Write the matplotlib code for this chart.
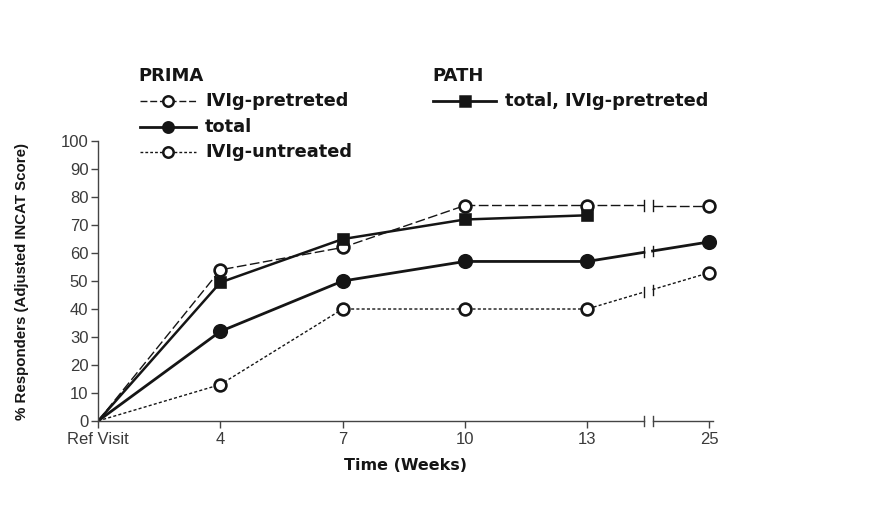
import numpy as np
import matplotlib
matplotlib.use('Agg')
import matplotlib.pyplot as plt
from matplotlib.lines import Line2D

# data
weeks = ['Ref Visit', '4', '7', '10', '13', '25']
prima_pretreated = [0, 54, 62, 77, 77, 77]
prima_total = [0, 32, 50, 57, 57, 64]
prima_untreated = [0, 13, 40, 40, 40, 53]
path_total = [0, 49.5, 65, 72, 73.5]

INK = '#151515'
GREY = '#444444'
BREAK = 4.5   # axis break between week 13 and week 25
GAP = 0.035

plt.rcParams['font.family'] = ['Liberation Sans', 'DejaVu Sans']

fig = plt.figure(figsize=(8.76, 5.19), dpi=100)
ax = fig.add_axes([0.112, 0.189, 0.702, 0.539])

x = np.arange(len(weeks))


def broken_line(ax, vals, ls, lw, marker, mfc, ms):
    xs = np.arange(len(vals))
    yv = np.array(vals, dtype=float)
    if len(vals) > 5:
        y_lo = np.interp(BREAK - GAP, xs, yv)
        y_hi = np.interp(BREAK + GAP, xs, yv)
        ax.plot(list(xs[:5]) + [BREAK - GAP], list(yv[:5]) + [y_lo],
                ls=ls, lw=lw, color=INK, zorder=2)
        ax.plot([BREAK + GAP, xs[5]], [y_hi, yv[5]], ls=ls, lw=lw,
                color=INK, zorder=2)
        for bx, by in ((BREAK - GAP, y_lo), (BREAK + GAP, y_hi)):
            ax.plot([bx, bx], [by - 1.8, by + 1.8], color=INK, lw=1.0,
                    zorder=2)
    else:
        ax.plot(xs, yv, ls=ls, lw=lw, color=INK, zorder=2)
    ax.plot(xs[1:], yv[1:], ls='none', marker=marker, ms=ms, mfc=mfc,
            mec=INK, mew=1.9, zorder=3, clip_on=False)


broken_line(ax, prima_pretreated, (0, (7, 2.5)), 1.0, 'o', 'white', 8.5)
broken_line(ax, prima_untreated, (0, (2.2, 1.6)), 1.0, 'o', 'white', 8.5)
broken_line(ax, prima_total, '-', 2.0, 'o', INK, 9)
broken_line(ax, path_total, '-', 1.8, 's', INK, 7.5)

ax.set_xlim(0, 5.03)
ax.set_ylim(0, 100)
ax.set_yticks(np.arange(0, 101, 10))
ax.set_xticks(x)
ax.set_xticklabels(weeks)
ax.tick_params(axis='both', direction='out', length=5, width=1.0,
               color=GREY, labelcolor='#3a3a3a', labelsize=12)
ax.tick_params(axis='x', pad=3)
ax.tick_params(axis='y', pad=2)

for s in ('top', 'right', 'bottom'):
    ax.spines[s].set_visible(False)
ax.spines['left'].set_color(GREY)
ax.spines['left'].set_linewidth(1.0)

# bottom axis drawn in two pieces with break marks
ax.plot([0, BREAK - GAP], [0, 0], color=GREY, lw=1.0, clip_on=False)
ax.plot([BREAK + GAP, 5.03], [0, 0], color=GREY, lw=1.0, clip_on=False)
for bx in (BREAK - GAP, BREAK + GAP):
    ax.plot([bx, bx], [-1.8, 1.8], color=GREY, lw=1.0, clip_on=False)

ax.set_xlabel('Time (Weeks)', family=['DejaVu Sans'], fontsize=11.5,
              fontweight='bold', color=INK, labelpad=8)
ax.set_ylabel('% Responders (Adjusted INCAT Score)', fontsize=10.8,
              fontweight='bold', color=INK, labelpad=23)

# manual legend in figure coordinates
W, H = 876.0, 519.0


def fx(px):
    return px / W


def fy(py):
    return 1 - py / H


leg_font = dict(family=['DejaVu Sans'], fontweight='bold',
                fontsize=12.8, color=INK, va='center')
fig.text(fx(138), fy(76), 'PRIMA', **dict(leg_font, fontsize=13))
fig.text(fx(432), fy(76), 'PATH', **dict(leg_font, fontsize=13))

entries = [
    (140, 196, 101, (0, (5, 2)), 1.0, 'o', 'white', 'IVIg-pretreted'),
    (140, 196, 127, '-', 2.0, 'o', INK, 'total'),
    (140, 196, 152, (0, (2, 1.5)), 1.0, 'o', 'white', 'IVIg-untreated'),
    (433, 496, 101, '-', 2.0, 's', INK, 'total, IVIg-pretreted'),
]
for x0, x1, py, ls, lw, mk, mfc, label in entries:
    fig.add_artist(Line2D([fx(x0), fx(x1)], [fy(py), fy(py)],
                          transform=fig.transFigure, ls=ls, lw=lw,
                          color=INK))
    fig.add_artist(Line2D([fx((x0 + x1) / 2)], [fy(py)],
                          transform=fig.transFigure, ls='none', marker=mk,
                          ms=7.5, mfc=mfc, mec=INK, mew=1.8))
    fig.text(fx(x1 + 9), fy(py), label, **leg_font)

fig.savefig('out.png', dpi=100, facecolor='white')
